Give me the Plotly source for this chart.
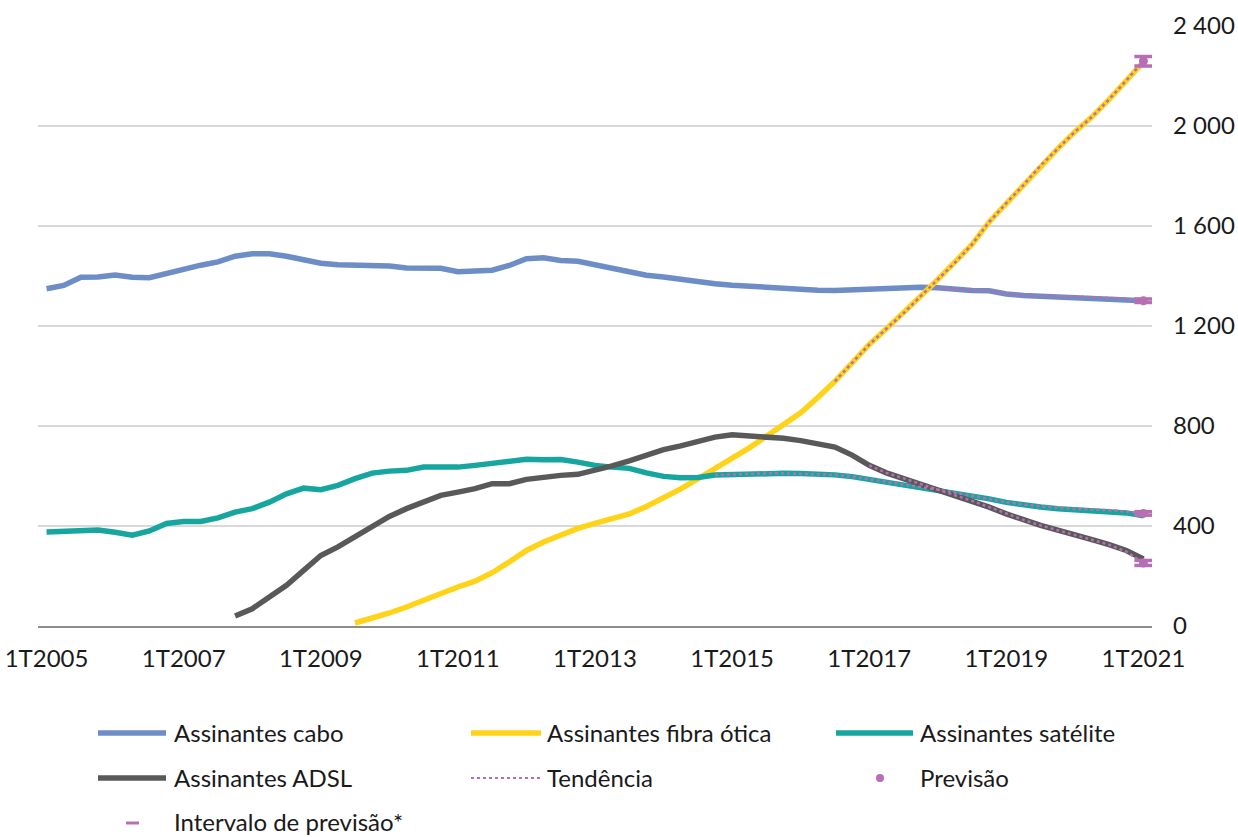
import plotly.graph_objects as go

# Quarterly categories 1T2005 .. 1T2021
quarters = [f"{q}T{y}" for y in range(2005, 2022) for q in range(1, 5)][:65]
tick_labels = ["1T2005", "1T2007", "1T2009", "1T2011", "1T2013", "1T2015", "1T2017", "1T2019", "1T2021"]
y_ticks = [0, 400, 800, 1200, 1600, 2000, 2400]
y_tick_text = ["0", "400", "800", "1 200", "1 600", "2 000", "2 400"]

# Subscribers (thousands)
cabo = [1348, 1361, 1394, 1395, 1403, 1394, 1392, 1410, 1428, 1442,
        1455, 1478, 1488, 1488, 1478, 1466, 1450, 1444, 1444, 1444,
        1439, 1431, 1430, 1430, 1416, 1418, 1422, 1441, 1468, 1472,
        1461, 1458, 1445, 1433, 1420, 1402, 1395, 1385, 1375, 1368,
        1362, 1357, 1353, 1350, 1345, 1342, 1341, 1344, 1350, 1353,
        1354, 1354, 1352, 1346, 1341, 1340, 1327, 1321, 1318, 1318,
        1317, 1313, 1311, 1308, 1300]
fibra_start = 18
fibra = [12, 30, 52, 76, 103, 132, 156, 179, 213, 256,
         302, 336, 365, 390, 410, 428, 448, 478, 512, 548,
         588, 628, 668, 712, 758, 805, 852, 913, 978, 1052,
         1125, 1188, 1250, 1318, 1385, 1452, 1525, 1615, 1690, 1762,
         1840, 1908, 1975, 2035, 2105, 2180, 2255]
satelite = [376, 379, 383, 384, 375, 363, 380, 410, 418, 418,
            432, 455, 469, 495, 528, 551, 545, 562, 589, 611,
            619, 622, 635, 635, 635, 642, 651, 662, 666, 664,
            665, 655, 642, 635, 630, 612, 598, 593, 594, 603,
            606, 608, 610, 610, 609, 607, 604, 597, 586, 574,
            564, 555, 545, 532, 520, 508, 494, 483, 476, 469,
            465, 463, 460, 452, 440]
adsl_start = 11
adsl = [40, 69, 116, 163, 222, 282, 316, 356, 402, 438,
        469, 496, 522, 535, 549, 569, 569, 586, 595, 602,
        606, 621, 640, 660, 685, 705, 720, 738, 755, 764,
        760, 755, 750, 741, 730, 715, 683, 642, 612, 590,
        568, 545, 522, 500, 475, 448, 424, 402, 383, 366,
        345, 325, 302, 268]

# Trend segments
tend_cabo_start = 52
tend_cabo = [1352, 1346, 1341, 1340, 1327, 1321, 1318, 1318, 1317, 1313, 1311, 1308, 1300]
tend_fibra_start = 46
tend_fibra = [978, 1052, 1125, 1188, 1250, 1318, 1385, 1452, 1525, 1615,
              1690, 1762, 1840, 1908, 1975, 2035, 2105, 2180, 2258]
tend_sat_start = 39
tend_sat = [603, 606, 608, 610, 610, 609, 607, 604, 597, 586,
            574, 564, 555, 545, 532, 520, 508, 495, 485, 478,
            472, 468, 466, 463, 457, 450]
tend_adsl_start = 48
tend_adsl = [642, 612, 590, 568, 545, 522, 500, 475, 448, 424,
             402, 383, 366, 345, 325, 297, 252]

# Forecast for 1T2021 and its interval (cabo, fibra, satélite, ADSL)
previsao = [1300, 2258, 450, 252]
prev_low = [1293, 2238, 443, 242]
prev_high = [1307, 2276, 457, 262]

C_CABO = "#6D8DC7"
C_FIBRA = "#FFD318"
C_SAT = "#16A69F"
C_ADSL = "#595959"
C_PURPLE = "#B66FB4"
FONT = "Lato"
TXT = "#1A1A1A"
FS = 24

fig = go.Figure()


def add_line(start, vals, color, width=5.5, dash=None):
    fig.add_trace(go.Scatter(
        x=quarters[start:start + len(vals)], y=vals, mode="lines",
        line=dict(color=color, width=width, dash=dash),
        showlegend=False, hoverinfo="skip"))


add_line(0, cabo, C_CABO)
add_line(fibra_start, fibra, C_FIBRA)
add_line(0, satelite, C_SAT)
add_line(adsl_start, adsl, C_ADSL)
add_line(tend_cabo_start, tend_cabo, C_PURPLE, 2.5, "dot")
add_line(tend_fibra_start, tend_fibra, C_PURPLE, 2.5, "dot")
add_line(tend_sat_start, tend_sat, C_PURPLE, 2.5, "dot")
add_line(tend_adsl_start, tend_adsl, C_PURPLE, 2.5, "dot")

last_q = [quarters[-1]] * len(previsao)
for vals in (prev_low, prev_high):
    fig.add_trace(go.Scatter(
        x=last_q, y=vals, mode="markers",
        marker=dict(symbol="line-ew", size=13, color=C_PURPLE,
                    line=dict(color=C_PURPLE, width=3.5)),
        showlegend=False, hoverinfo="skip"))
fig.add_trace(go.Scatter(
    x=last_q, y=previsao, mode="markers",
    marker=dict(symbol="circle", size=9, color=C_PURPLE),
    showlegend=False, hoverinfo="skip"))

# Hand-built legend (pixel positions converted to paper coordinates)
X0, X1, Y0, Y1 = 38, 1152, 626, 25


def px(x):
    return (x - X0) / (X1 - X0)


def py(y):
    return (Y0 - y) / (Y0 - Y1)


shapes = []
annotations = []


def legend_line(x0, x1, y, color, width=5.5, dash="solid"):
    shapes.append(dict(type="line", xref="paper", yref="paper",
                       x0=px(x0), x1=px(x1), y0=py(y), y1=py(y),
                       line=dict(color=color, width=width, dash=dash)))


def legend_text(x, y, text):
    annotations.append(dict(xref="paper", yref="paper", x=px(x), y=py(y),
                            text=text, showarrow=False, xanchor="left",
                            yanchor="middle",
                            font=dict(family=FONT, size=FS, color=TXT)))


legend_line(98, 166, 733, C_CABO)
legend_text(172, 732, "Assinantes cabo")
legend_line(471, 541, 733, C_FIBRA)
legend_text(545, 732, "Assinantes fibra ótica")
legend_line(836, 913, 733, C_SAT)
legend_text(918, 732, "Assinantes satélite")

legend_line(98, 166, 778, C_ADSL)
legend_text(172, 777, "Assinantes ADSL")
legend_line(471, 541, 778, C_PURPLE, 2, "dot")
legend_text(545, 777, "Tendência")
shapes.append(dict(type="circle", xref="paper", yref="paper",
                   x0=px(876), x1=px(884), y0=py(774), y1=py(782),
                   fillcolor=C_PURPLE, line=dict(width=0)))
legend_text(918, 777, "Previsão")

legend_line(126, 139, 823, C_PURPLE, 3)
legend_text(172, 821, "Intervalo de previsão*")

fig.update_layout(
    width=1238, height=837,
    margin=dict(l=X0, r=1238 - X1, t=Y1, b=837 - Y0, autoexpand=False),
    paper_bgcolor="white", plot_bgcolor="white",
    font=dict(family=FONT, size=FS, color=TXT),
    shapes=shapes, annotations=annotations,
    showlegend=False,
)
fig.update_xaxes(
    type="category", categoryorder="array", categoryarray=quarters,
    range=[-0.5, 64.5], tickvals=tick_labels, ticktext=tick_labels,
    showgrid=False, showline=True, linecolor="#8C8C8C", linewidth=2,
    ticks="", ticklabelstandoff=10, zeroline=False, automargin=False,
    tickfont=dict(family=FONT, size=FS, color=TXT))
fig.update_yaxes(
    side="right", range=[0, 2402], tickvals=y_ticks, ticktext=y_tick_text,
    showgrid=True, gridcolor="#D9D9D9", gridwidth=2, zeroline=False,
    showline=False, ticks="", ticklabelstandoff=20, automargin=False,
    tickfont=dict(family=FONT, size=FS, color=TXT))

fig.write_html("out.html")
